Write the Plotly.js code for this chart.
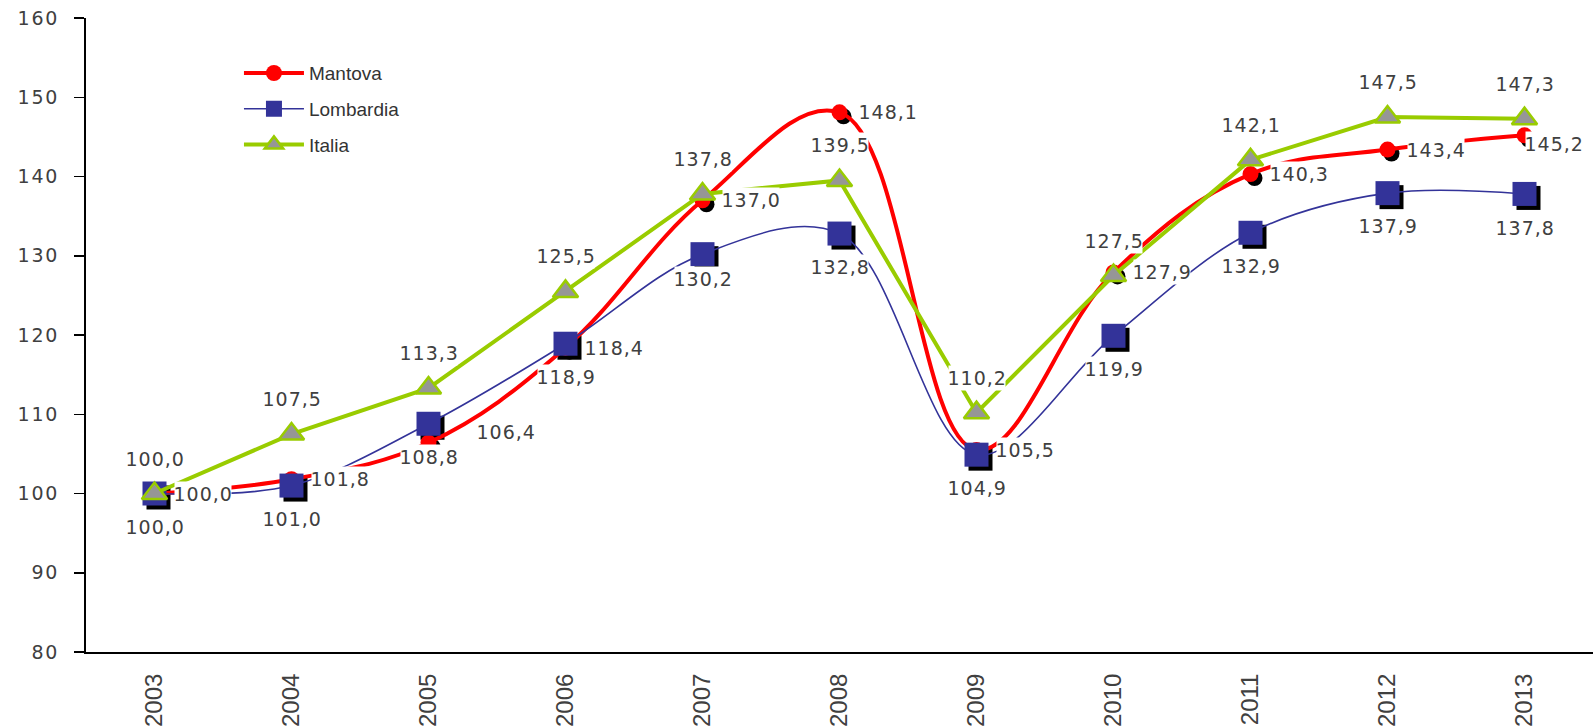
<!DOCTYPE html>
<html>
<head>
<meta charset="utf-8">
<script src="https://cdn.plot.ly/plotly-3.0.1.min.js"></script>
<style>
html,body{margin:0;padding:0;background:#fff;}
#chart{width:1595px;height:728px;}
#chart g.y2tick text{letter-spacing:1.8px;}
#chart g.annotation text{letter-spacing:1px;}
</style>
</head>
<body>
<div id="chart"></div>
<script>
const years = ['2003','2004','2005','2006','2007','2008','2009','2010','2011','2012','2013'];
const mantova   = [100.0, 101.8, 106.4, 118.4, 137.0, 148.1, 105.5, 127.9, 140.3, 143.4, 145.2];
const lombardia = [100.0, 101.0, 108.8, 118.9, 130.2, 132.8, 104.9, 119.9, 132.9, 137.9, 137.8];
const italia    = [100.0, 107.5, 113.3, 125.5, 137.8, 139.5, 110.2, 127.5, 142.1, 147.5, 147.3];
const seriesNames = ['Mantova', 'Lombardia', 'Italia'];

const W = 1595, H = 728;
const M = {l: 86, r: 2, t: 18, b: 76};
const plotW = W - M.l - M.r, plotH = H - M.t - M.b;
const xr = [-0.5, years.length - 0.5];
const yr = [80, 160];
// shadow offset in pixels
const sdx = 4, sdy = 4;
const dxu = sdx * (xr[1] - xr[0]) / plotW;
const dyu = sdy * (yr[1] - yr[0]) / plotH;

const RED = '#FF0000', NAVY = '#333399', GREEN = '#99CC00', GREY = '#969696';

const traces = [
  // shadows (on base axes, shifted)
  {x: years, y: mantova, xaxis: 'x', yaxis: 'y', mode: 'markers', showlegend: false, hoverinfo: 'skip',
   marker: {symbol: 'circle', size: 16, color: '#000'}, cliponaxis: false},
  {x: years, y: lombardia, xaxis: 'x', yaxis: 'y', mode: 'markers', showlegend: false, hoverinfo: 'skip',
   marker: {symbol: 'square', size: 24, color: '#000'}, cliponaxis: false},
  // real series
  {x: years, y: mantova, name: seriesNames[0], legendgroup: 'a', xaxis: 'x2', yaxis: 'y2', mode: 'lines+markers',
   line: {color: RED, width: 4, shape: 'spline', smoothing: 1.1},
   marker: {symbol: 'circle', size: 16, color: RED}, cliponaxis: false},
  {x: years, y: lombardia, name: seriesNames[1], legendgroup: 'b', xaxis: 'x2', yaxis: 'y2', mode: 'lines+markers',
   line: {color: NAVY, width: 1.6, shape: 'spline', smoothing: 1},
   marker: {symbol: 'square', size: 24, color: NAVY}, cliponaxis: false},
  {x: years, y: italia, name: seriesNames[2], legendgroup: 'c', xaxis: 'x2', yaxis: 'y2', mode: 'lines+markers',
   line: {color: GREEN, width: 4},
   marker: {symbol: 'triangle-up', size: 22, color: GREY, line: {color: GREEN, width: 2.5}}, cliponaxis: false}
];

function fmt(v) { return v.toFixed(1).replace('.', ','); }
const labelFont = {family: 'DejaVu Sans', size: 19, color: '#404040'};
const annotations = [];
function addLabel(i, v, pos, extra) {
  const a = {x: i, y: v, xref: 'x2', yref: 'y2', text: fmt(v), showarrow: false,
    font: labelFont, bgcolor: '#ffffff', borderpad: 1, yanchor: 'middle'};
  if (pos === 'above') { a.xanchor = 'center'; a.yshift = 35; }
  else if (pos === 'below') { a.xanchor = 'center'; a.yshift = -33; }
  else { a.xanchor = 'left'; a.xshift = 19; a.yshift = 0; }
  Object.assign(a, extra || {});
  annotations.push(a);
}
const mantovaAdj = {2: {xshift: 48, yshift: 11}, 10: {xshift: 0, yshift: -9}};
const lombardiaAdj = {4: {yshift: -25}, 10: {yshift: -34}};
years.forEach((y, i) => {
  addLabel(i, mantova[i], 'right', mantovaAdj[i]);
  addLabel(i, lombardia[i], 'below', lombardiaAdj[i]);
  addLabel(i, italia[i], 'above');
});

const layout = {
  width: W, height: H,
  margin: M,
  paper_bgcolor: '#fff', plot_bgcolor: 'rgba(0,0,0,0)',
  showlegend: true,
  legend: {x: 0.1015, y: 0.943, xanchor: 'left', yanchor: 'top', bgcolor: 'rgba(0,0,0,0)',
    font: {family: 'Liberation Sans', size: 19, color: '#333333'},
    traceorder: 'grouped', tracegroupgap: 8, itemwidth: 60},
  xaxis: {type: 'category', range: [xr[0] - dxu, xr[1] - dxu], visible: false, showgrid: false, fixedrange: true},
  yaxis: {range: [yr[0] + dyu, yr[1] + dyu], visible: false, showgrid: false, fixedrange: true},
  xaxis2: {type: 'category', overlaying: 'x', anchor: 'y2', range: xr, showgrid: false, zeroline: false,
    showline: true, linecolor: '#000', linewidth: 2, ticks: '', tickangle: -90,
    tickfont: {family: 'Liberation Sans', size: 24, color: '#404040'}, ticklabelstandoff: 10},
  yaxis2: {overlaying: 'y', anchor: 'x2', range: yr, dtick: 10, showgrid: false, zeroline: false,
    showline: true, linecolor: '#000', linewidth: 2, ticks: 'outside', ticklen: 10, tickwidth: 1.5, tickcolor: '#000',
    tickfont: {family: 'DejaVu Sans', size: 19, color: '#404040'}, ticklabelstandoff: 11},
  annotations: annotations
};

Plotly.newPlot('chart', traces, layout, {staticPlot: true, displayModeBar: false});
</script>
</body>
</html>
